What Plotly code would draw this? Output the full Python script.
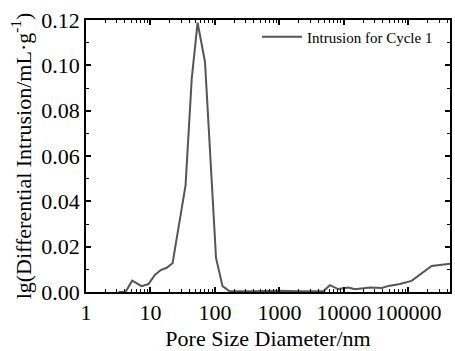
import plotly.graph_objects as go

pore_nm = [3.2, 4.1, 5.2, 7.3, 9.3, 11.7, 14.4, 17.8, 22, 35, 43.6, 53.8, 70, 104, 131, 167,
           400, 1000, 2000, 3500, 4790, 6050, 8130, 11700, 14800, 25300, 38300, 51600, 74000,
           112000, 229000, 447000]
intrusion = [0.0, 0.0, 0.005, 0.0026, 0.0035, 0.0075, 0.0097, 0.0107, 0.0127, 0.047, 0.094,
             0.1188, 0.1016, 0.0149, 0.0026, 0.0004,
             0.0003, 0.0006, 0.0003, 0.0002, 0.0003, 0.003, 0.0013, 0.002, 0.0012, 0.002,
             0.0018, 0.0028, 0.0035, 0.0049, 0.0115, 0.0125]
series_name = "Intrusion for Cycle 1"
x_tickvals = [1, 10, 100, 1000, 10000, 100000]
x_ticktext = ["1", "10", "100", "1000", "10000", "100000"]
y_tickvals = [0.0, 0.02, 0.04, 0.06, 0.08, 0.10, 0.12]
y_ticktext = ["0.00", "0.02", "0.04", "0.06", "0.08", "0.10", "0.12"]

font = "Liberation Serif"

fig = go.Figure()
fig.add_trace(go.Scatter(x=pore_nm, y=intrusion, mode="lines", name=series_name,
                         line=dict(color="#555555", width=2)))

fig.update_layout(
    width=455, height=351,
    margin=dict(l=86, r=5, t=20, b=59),
    paper_bgcolor="white", plot_bgcolor="white",
    font=dict(family=font, color="black", size=22),
    showlegend=True,
    legend=dict(x=0.967, y=0.998, xanchor="right", yanchor="top",
                bgcolor="rgba(0,0,0,0)", font=dict(size=15, family=font),
                itemwidth=40),
    xaxis=dict(
        type="log", range=[0, 5.645],
        tickmode="array", tickvals=x_tickvals, ticktext=x_ticktext,
        ticks="inside", ticklen=5, tickwidth=1.5, tickcolor="black",
        minor=dict(ticks="inside", ticklen=3, tickwidth=1, dtick="D1", tickcolor="black"),
        showline=True, linecolor="black", linewidth=1.5, mirror="ticks",
        showgrid=False, zeroline=False, tickangle=0, automargin=False,
        tickfont=dict(size=22, family=font, color="black"),
        title=dict(text="Pore Size Diameter/nm", font=dict(size=22, family=font), standoff=6),
    ),
    yaxis=dict(
        range=[0, 0.12],
        tickmode="array", tickvals=y_tickvals, ticktext=y_ticktext,
        ticks="inside", ticklen=5, tickwidth=1.5, tickcolor="black",
        minor=dict(ticks="inside", ticklen=3, tickwidth=1, dtick=0.01, tickcolor="black"),
        showline=True, linecolor="black", linewidth=1.5, mirror="ticks",
        showgrid=False, zeroline=False, automargin=False,
        tickfont=dict(size=22, family=font, color="black"),
        title=dict(text="lg(Differential Intrusion/mL·g<sup>-1</sup>)",
                   font=dict(size=22, family=font), standoff=4),
    ),
)

fig.write_html("out.html")
